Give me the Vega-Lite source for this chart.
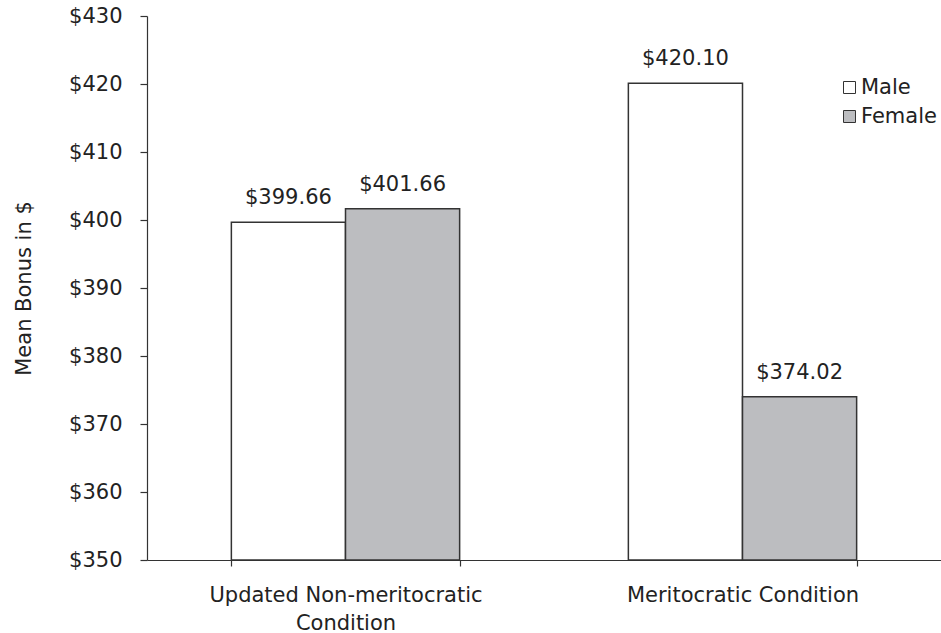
{
  "$schema": "https://vega.github.io/schema/vega-lite/v6.json",
  "width": 794,
  "height": 544,
  "autosize": {"type": "none"},
  "padding": {"left": 147, "top": 16, "right": 0, "bottom": 73},
  "background": "white",
  "config": {"view": {"stroke": null}, "font": "DejaVu Sans", "axis": {"grid": false}},
  "data": {
    "values": [
      {"condition": "Updated Non-meritocratic Condition", "gender": "Male", "bonus": 399.66},
      {"condition": "Updated Non-meritocratic Condition", "gender": "Female", "bonus": 401.66},
      {"condition": "Meritocratic Condition", "gender": "Male", "bonus": 420.10},
      {"condition": "Meritocratic Condition", "gender": "Female", "bonus": 374.02}
    ]
  },
  "encoding": {
    "x": {
      "field": "condition",
      "type": "nominal",
      "sort": ["Updated Non-meritocratic Condition", "Meritocratic Condition"],
      "scale": {"paddingInner": 0.425, "paddingOuter": 0.2125},
      "axis": {
        "title": null,
        "labelAngle": 0,
        "tickBand": "extent",
        "domainColor": "#333333",
        "domainWidth": 1.2,
        "tickColor": "#333333",
        "tickWidth": 1.2,
        "tickSize": 6,
        "labelFontSize": 21,
        "labelColor": "#222222",
        "labelPadding": 18,
        "labelLineHeight": 28,
        "labelLimit": 0,
        "labelExpr": "datum.label == 'Updated Non-meritocratic Condition' ? ['Updated Non-meritocratic', 'Condition'] : datum.label"
      }
    },
    "xOffset": {"field": "gender", "type": "nominal", "sort": ["Male", "Female"]},
    "y": {
      "field": "bonus",
      "type": "quantitative",
      "scale": {"domain": [350, 430], "nice": false, "zero": false},
      "axis": {
        "title": "Mean Bonus in $",
        "titleFontSize": 21,
        "titleFontWeight": "normal",
        "titleColor": "#222222",
        "titlePadding": 34,
        "values": [350, 360, 370, 380, 390, 400, 410, 420, 430],
        "format": "$.0f",
        "labelFontSize": 21,
        "labelColor": "#222222",
        "labelPadding": 18,
        "tickSize": 7,
        "tickColor": "#333333",
        "tickWidth": 1.2,
        "domainColor": "#333333",
        "domainWidth": 1.2
      }
    }
  },
  "layer": [
    {
      "mark": {"type": "bar", "stroke": "#333333", "strokeWidth": 1.5},
      "encoding": {
        "y2": {"datum": 350},
        "color": {
          "field": "gender",
          "type": "nominal",
          "sort": ["Male", "Female"],
          "scale": {"domain": ["Male", "Female"], "range": ["#ffffff", "#bcbdc0"]},
          "legend": {
            "title": null,
            "orient": "none",
            "legendX": 692,
            "legendY": 61,
            "padding": 0,
            "symbolType": "square",
            "symbolSize": 144,
            "symbolStrokeColor": "#333333",
            "symbolStrokeWidth": 1,
            "symbolOpacity": 1,
            "labelFontSize": 21,
            "labelColor": "#222222",
            "labelOffset": 1,
            "rowPadding": 7
          }
        }
      }
    },
    {
      "mark": {"type": "text", "dy": -18, "fontSize": 21, "baseline": "alphabetic", "color": "#222222"},
      "encoding": {"text": {"field": "bonus", "type": "quantitative", "format": "$.2f"}}
    }
  ]
}
